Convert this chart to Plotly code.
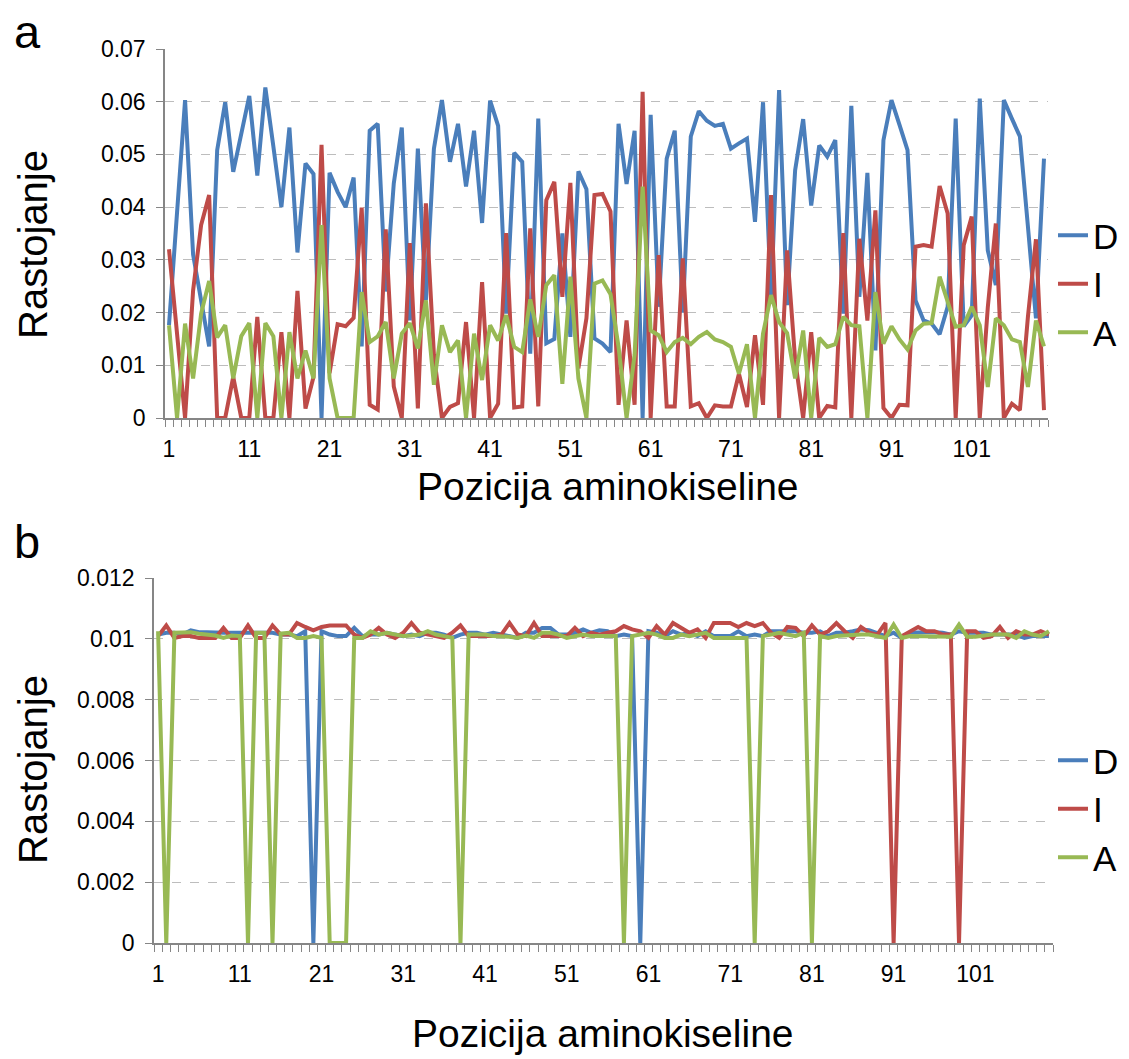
import plotly.graph_objects as go

positions = list(range(1, 111))

d_top = [0.0176, 0.038, 0.0603, 0.031, 0.022, 0.0136, 0.0508, 0.0599, 0.0467, 0.0535,
         0.0611, 0.046, 0.0627, 0.0515, 0.040, 0.0551, 0.0314, 0.0483, 0.0463, 0,
         0.0465, 0.0429, 0.040, 0.0456, 0.0136, 0.0545, 0.0558, 0.024, 0.0445, 0.0551,
         0.0185, 0.0511, 0.0223, 0.0511, 0.0603, 0.0486, 0.0558, 0.0439, 0.0545, 0.037,
         0.0602, 0.0554, 0.0198, 0.0503, 0.0486, 0.0122, 0.0568, 0.0142, 0.015, 0.035,
         0.0154, 0.0468, 0.0434, 0.0151, 0.0141, 0.0125, 0.0558, 0.0444, 0.0545, 0,
         0.0575, 0.0211, 0.0492, 0.0545, 0.020, 0.0534, 0.0582, 0.0564, 0.0554, 0.0558,
         0.0511, 0.0521, 0.053, 0.0372, 0.0599, 0.0225, 0.0622, 0.0214, 0.047, 0.0567,
         0.0403, 0.0517, 0.0496, 0.0527, 0.0198, 0.0592, 0.023, 0.0465, 0.0128, 0.0527,
         0.0603, 0.0556, 0.0508, 0.0223, 0.0185, 0.0179, 0.0159, 0.0211, 0.0568, 0.0174,
         0.0195, 0.0606, 0.0318, 0.0252, 0.0603, 0.0568, 0.0534, 0.0363, 0.0189, 0.0492]

i_top = [0.032, 0.016, 0, 0.0242, 0.0366, 0.0423, 0, 0, 0.0078, 0,
         0, 0.0192, 0, 0, 0.0163, 0, 0.0241, 0.0018, 0.0078, 0.0518,
         0.0085, 0.0178, 0.0174, 0.019, 0.0399, 0.0025, 0.0016, 0.0358, 0.006, 0,
         0.0332, 0.0018, 0.0407, 0.012, 0, 0.0021, 0.0028, 0.0182, 0, 0.0258,
         0, 0.0027, 0.0351, 0.002, 0.0022, 0.036, 0.0022, 0.0413, 0.0448, 0.023,
         0.0446, 0.0094, 0.0189, 0.0423, 0.0425, 0.0392, 0.0025, 0.0185, 0.0025, 0.0619,
         0, 0.0309, 0.0022, 0.0022, 0.0303, 0.0022, 0.0028, 0, 0.0024, 0.0022,
         0.0022, 0.0084, 0.0021, 0.0157, 0.0025, 0.0423, 0, 0.0318, 0.011, 0,
         0.0163, 0, 0.0023, 0.002, 0.0351, 0, 0.034, 0.0185, 0.0394, 0.0019,
         0, 0.0025, 0.0024, 0.0325, 0.0328, 0.0325, 0.044, 0.0388, 0, 0.0328,
         0.0382, 0, 0.021, 0.0369, 0, 0.0027, 0.0015, 0.0192, 0.0339, 0.0015]

a_top = [0.0176, 0, 0.0179, 0.0075, 0.0198, 0.026, 0.0153, 0.0176, 0.0075, 0.0155,
         0.018, 0, 0.018, 0.0155, 0, 0.0163, 0.0075, 0.0128, 0.0075, 0.0366,
         0.0075, 0, 0, 0, 0.0239, 0.0144, 0.0155, 0.0182, 0.0075, 0.016,
         0.018, 0.0132, 0.0223, 0.0063, 0.0176, 0.0125, 0.0147, 0, 0.016, 0.0072,
         0.0176, 0.0147, 0.0195, 0.0135, 0.0125, 0.0225, 0.0154, 0.0252, 0.0271, 0.0065,
         0.0268, 0.0075, 0, 0.0255, 0.0261, 0.0235, 0.0135, 0, 0.012, 0.0439,
         0.0166, 0.0157, 0.0125, 0.0144, 0.0152, 0.014, 0.0154, 0.0163, 0.0149, 0.0144,
         0.0135, 0.0084, 0.014, 0, 0.016, 0.0233, 0.0182, 0.0161, 0.0075, 0.0166,
         0, 0.0152, 0.0135, 0.014, 0.0192, 0.0176, 0.0174, 0, 0.0239, 0.0141,
         0.0174, 0.0149, 0.013, 0.0166, 0.0179, 0.018, 0.0268, 0.022, 0.0173, 0.0176,
         0.0211, 0.0176, 0.0059, 0.0189, 0.0176, 0.0149, 0.0144, 0.0059, 0.0185, 0.0136]

d_bot = [0.01014, 0.01020, 0.01020, 0.01014, 0.01028, 0.01022, 0.01022, 0.01020, 0.01020, 0.01020,
         0.01020, 0.01020, 0.01020, 0.01020, 0.01020, 0.01014, 0.01014, 0.01009, 0.01025, 0,
         0.01025, 0.01014, 0.01009, 0.01009, 0.01036, 0.01009, 0.01014, 0.01014, 0.01020, 0.01014,
         0.01009, 0.01014, 0.01009, 0.01020, 0.01020, 0.01014, 0.01003, 0.01014, 0.01020, 0.01020,
         0.01014, 0.01020, 0.01014, 0.01009, 0.01003, 0.01020, 0.01020, 0.01036, 0.01036, 0.01014,
         0.01014, 0.01020, 0.01031, 0.01020, 0.01028, 0.01025, 0.01009, 0.01014, 0.01009, 0,
         0.01025, 0.01020, 0.01009, 0.01025, 0.01014, 0.01020, 0.01009, 0.01025, 0.01009, 0.01009,
         0.01009, 0.01025, 0.01009, 0.01014, 0.01009, 0.01025, 0.01025, 0.01025, 0.01025, 0.01020,
         0.01020, 0.01025, 0.01009, 0.01020, 0.01020, 0.01025, 0.01031, 0.01028, 0.01020, 0.01009,
         0.01020, 0.01003, 0.01020, 0.01022, 0.01022, 0.01022, 0.01020, 0.01014, 0.01025, 0.01020,
         0.01020, 0.01020, 0.01014, 0.01014, 0.01014, 0.01014, 0.01003, 0.01009, 0.01009, 0.01009]

i_bot = [0.01009, 0.01044, 0.01003, 0.01009, 0.01009, 0.01003, 0.01003, 0.01003, 0.01036, 0.01003,
         0.01003, 0.01044, 0.01003, 0.01003, 0.01044, 0.01014, 0.01014, 0.01052, 0.01039, 0.01028,
         0.01039, 0.01044, 0.01044, 0.01044, 0.01014, 0.01003, 0.01014, 0.01036, 0.01014, 0.01003,
         0.01020, 0.01052, 0.01020, 0.01014, 0.01009, 0.01003, 0.01020, 0.01044, 0.01009, 0.01009,
         0.01009, 0.01009, 0.01014, 0.01052, 0.01014, 0.01009, 0.01052, 0.01009, 0.01009, 0.01009,
         0.01009, 0.01036, 0.01009, 0.01020, 0.01014, 0.01020, 0.01025, 0.01042, 0.01031, 0.01025,
         0.01003, 0.01042, 0.01014, 0.01052, 0.01036, 0.01020, 0.01031, 0.01003, 0.01052, 0.01052,
         0.01052, 0.01039, 0.01052, 0.01042, 0.01052, 0.01020, 0.01003, 0.01039, 0.01036, 0.01009,
         0.01044, 0.01014, 0.01025, 0.01052, 0.01025, 0.01003, 0.01039, 0.01020, 0.01014, 0.01052,
         0, 0.01009, 0.01025, 0.01039, 0.01025, 0.01025, 0.01014, 0.01014, 0, 0.01025,
         0.01025, 0.01003, 0.01009, 0.01039, 0.01003, 0.01025, 0.01014, 0.01014, 0.01025, 0.01014]

a_bot = [0.01025, 0, 0.01020, 0.01020, 0.01022, 0.01017, 0.01014, 0.01011, 0.01003, 0.01011,
         0.01009, 0, 0.01020, 0.01020, 0, 0.01017, 0.01020, 0.01003, 0.01003, 0.01009,
         0.01003, 0, 0, 0, 0.01003, 0.01003, 0.01025, 0.01014, 0.01020, 0.01014,
         0.01009, 0.01011, 0.01014, 0.01025, 0.01014, 0.01009, 0.01003, 0, 0.01014, 0.01014,
         0.01014, 0.01009, 0.01009, 0.01007, 0.01003, 0.01011, 0.01003, 0.01020, 0.01020, 0.01014,
         0.01003, 0.01009, 0.01014, 0.01009, 0.01009, 0.01011, 0.01009, 0, 0.01009, 0.01014,
         0.01020, 0.01014, 0.01003, 0.01003, 0.01014, 0.01009, 0.01014, 0.01020, 0.01003, 0.01003,
         0.01003, 0.01003, 0.01003, 0, 0.01009, 0.01014, 0.01020, 0.01014, 0.01009, 0.01020,
         0, 0.01009, 0.01003, 0.01009, 0.01011, 0.01014, 0.01014, 0.01014, 0.01009, 0.01003,
         0.01047, 0.01003, 0.01009, 0.01009, 0.01009, 0.01007, 0.01007, 0.01007, 0.01047, 0.01007,
         0.01007, 0.01011, 0.01014, 0.01014, 0.01014, 0.01003, 0.01025, 0.01014, 0.01009, 0.01025]

series_names = ["D", "I", "A"]
colors = ["#4A7EBB", "#BE4B48", "#98B954"]
x_tick_vals = [1, 11, 21, 31, 41, 51, 61, 71, 81, 91, 101]
x_tick_text = [str(v) for v in x_tick_vals]

FONT = "Liberation Sans, Arial, sans-serif"
W, H = 1129, 1059

fig = go.Figure()
for name, col, vals in zip(series_names, colors, [d_top, i_top, a_top]):
    fig.add_trace(go.Scatter(x=positions, y=vals, mode="lines", name=name,
                             line=dict(color=col, width=4), xaxis="x", yaxis="y",
                             legend="legend"))
for name, col, vals in zip(series_names, colors, [d_bot, i_bot, a_bot]):
    fig.add_trace(go.Scatter(x=positions, y=vals, mode="lines", name=name,
                             line=dict(color=col, width=4), xaxis="x2", yaxis="y2",
                             legend="legend2"))

def px_x(p):
    return p / W

def px_y(p):
    return 1 - p / H

xcommon = dict(range=[0.5, 110.5], tickvals=x_tick_vals, ticktext=x_tick_text,
               ticks="", showgrid=False, zeroline=False, showline=True,
               linecolor="#868686", linewidth=1.5, automargin=False,
               tickfont=dict(family=FONT, size=23, color="#000"),
               ticklabelstandoff=10,
               minor=dict(tick0=0.5, dtick=1, ticks="outside", ticklen=7,
                          tickcolor="#868686", tickwidth=1, showgrid=False))
ycommon = dict(showgrid=True, gridcolor="#BDBDBD", griddash="dash", gridwidth=1,
               zeroline=False, showline=True, linecolor="#868686", linewidth=1.5,
               ticks="outside", ticklen=7, tickcolor="#868686", automargin=False,
               ticklabelstandoff=6,
               tickfont=dict(family=FONT, size=23, color="#000"))

legend_common = dict(xanchor="left", yanchor="middle",
                     font=dict(family=FONT, size=35, color="#000"),
                     bgcolor="rgba(0,0,0,0)", itemwidth=30, tracegroupgap=0)

fig.update_layout(
    template="none",
    width=W, height=H,
    margin=dict(l=0, r=0, t=0, b=0, autoexpand=False),
    paper_bgcolor="white", plot_bgcolor="white",
    showlegend=True,
    xaxis=dict(domain=[px_x(165), px_x(1048)], anchor="y", **xcommon),
    yaxis=dict(domain=[px_y(418), px_y(49)], anchor="x", range=[0, 0.07],
               dtick=0.01, tick0=0, **ycommon),
    xaxis2=dict(domain=[px_x(154), px_x(1053)], anchor="y2", **xcommon),
    yaxis2=dict(domain=[px_y(943), px_y(578)], anchor="x2", range=[0, 0.012],
                dtick=0.002, tick0=0, **ycommon),
    legend=dict(x=px_x(1053), y=px_y(284), **legend_common),
    legend2=dict(x=px_x(1053), y=px_y(809), **legend_common),
)

annots = [
    dict(text="a", x=px_x(12), y=px_y(31), xanchor="left", yanchor="middle", size=47),
    dict(text="b", x=px_x(12), y=px_y(541), xanchor="left", yanchor="middle", size=47),
    dict(text="Pozicija aminokiseline", x=px_x(608), y=px_y(486), xanchor="center",
         yanchor="middle", size=39),
    dict(text="Pozicija aminokiseline", x=px_x(603), y=px_y(1033), xanchor="center",
         yanchor="middle", size=39),
]
for a in annots:
    fig.add_annotation(text=a["text"], x=a["x"], y=a["y"], xref="paper", yref="paper",
                       xanchor=a["xanchor"], yanchor=a["yanchor"], showarrow=False,
                       font=dict(family=FONT, size=a["size"], color="#000"))
for yc in [245, 770]:
    fig.add_annotation(text="Rastojanje", x=px_x(33), y=px_y(yc), xref="paper", yref="paper",
                       xanchor="center", yanchor="middle", showarrow=False, textangle=-90,
                       font=dict(family=FONT, size=40, color="#000"))

fig.write_html("out.html", config={"displayModeBar": False},
               post_script="document.body.style.margin='0';document.body.style.overflow='hidden';")
